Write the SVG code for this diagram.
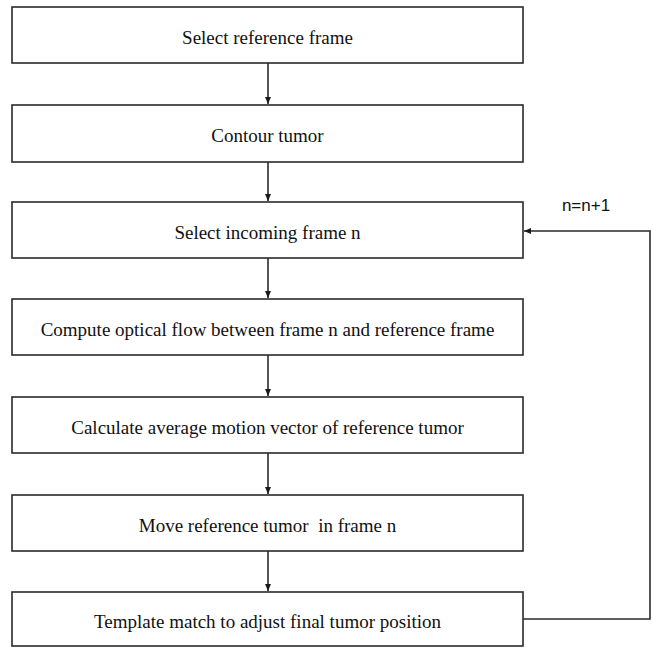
<svg xmlns="http://www.w3.org/2000/svg" width="653" height="648" viewBox="0 0 653 648">
<style>
.box{fill:#fff;stroke:#2a2a2a;stroke-width:1.6}
.lbl{font-family:"Liberation Serif","Times New Roman",serif;font-size:19px;fill:#111;text-anchor:middle;white-space:pre}
.edge{fill:none;stroke:#2a2a2a;stroke-width:1.6}
.note{font-family:"Liberation Sans",Arial,sans-serif;font-size:17px;fill:#111}
</style>
<defs>
<marker id="ah" markerWidth="8" markerHeight="8" refX="7" refY="4" orient="auto" markerUnits="userSpaceOnUse">
<path d="M0,1 L7,4 L0,7 Z" fill="#1a1a1a"/>
</marker>
</defs>
<rect width="653" height="648" fill="#fff"/>
<g id="connectors">
<line class="edge" x1="268" y1="63" x2="268" y2="104" marker-end="url(#ah)"/>
<line class="edge" x1="268" y1="162" x2="268" y2="201" marker-end="url(#ah)"/>
<line class="edge" x1="268" y1="258" x2="268" y2="298" marker-end="url(#ah)"/>
<line class="edge" x1="268" y1="355" x2="268" y2="396" marker-end="url(#ah)"/>
<line class="edge" x1="268" y1="453" x2="268" y2="494" marker-end="url(#ah)"/>
<line class="edge" x1="268" y1="551" x2="268" y2="591" marker-end="url(#ah)"/>
<polyline class="edge" points="523,619 650,619 650,231 524,231" marker-end="url(#ah)"/>
<text class="note" x="586" y="211" text-anchor="middle">n=n+1</text>
</g>
<g id="n1"><rect class="box" x="12" y="7" width="511" height="56"/><text class="lbl" x="267.5" y="44">Select reference frame</text></g>
<g id="n2"><rect class="box" x="12" y="105" width="511" height="57"/><text class="lbl" x="267.5" y="142">Contour tumor</text></g>
<g id="n3"><rect class="box" x="12" y="202" width="511" height="56"/><text class="lbl" x="267.5" y="239">Select incoming frame n</text></g>
<g id="n4"><rect class="box" x="12" y="299" width="511" height="56"/><text class="lbl" x="267.5" y="336">Compute optical flow between frame n and reference frame</text></g>
<g id="n5"><rect class="box" x="12" y="397" width="511" height="56"/><text class="lbl" x="267.5" y="434">Calculate average motion vector of reference tumor</text></g>
<g id="n6"><rect class="box" x="12" y="495" width="511" height="56"/><text class="lbl" x="267.5" y="532" xml:space="preserve">Move reference tumor  in frame n</text></g>
<g id="n7"><rect class="box" x="12" y="592" width="511" height="54"/><text class="lbl" x="267.5" y="628">Template match to adjust final tumor position</text></g>
</svg>
